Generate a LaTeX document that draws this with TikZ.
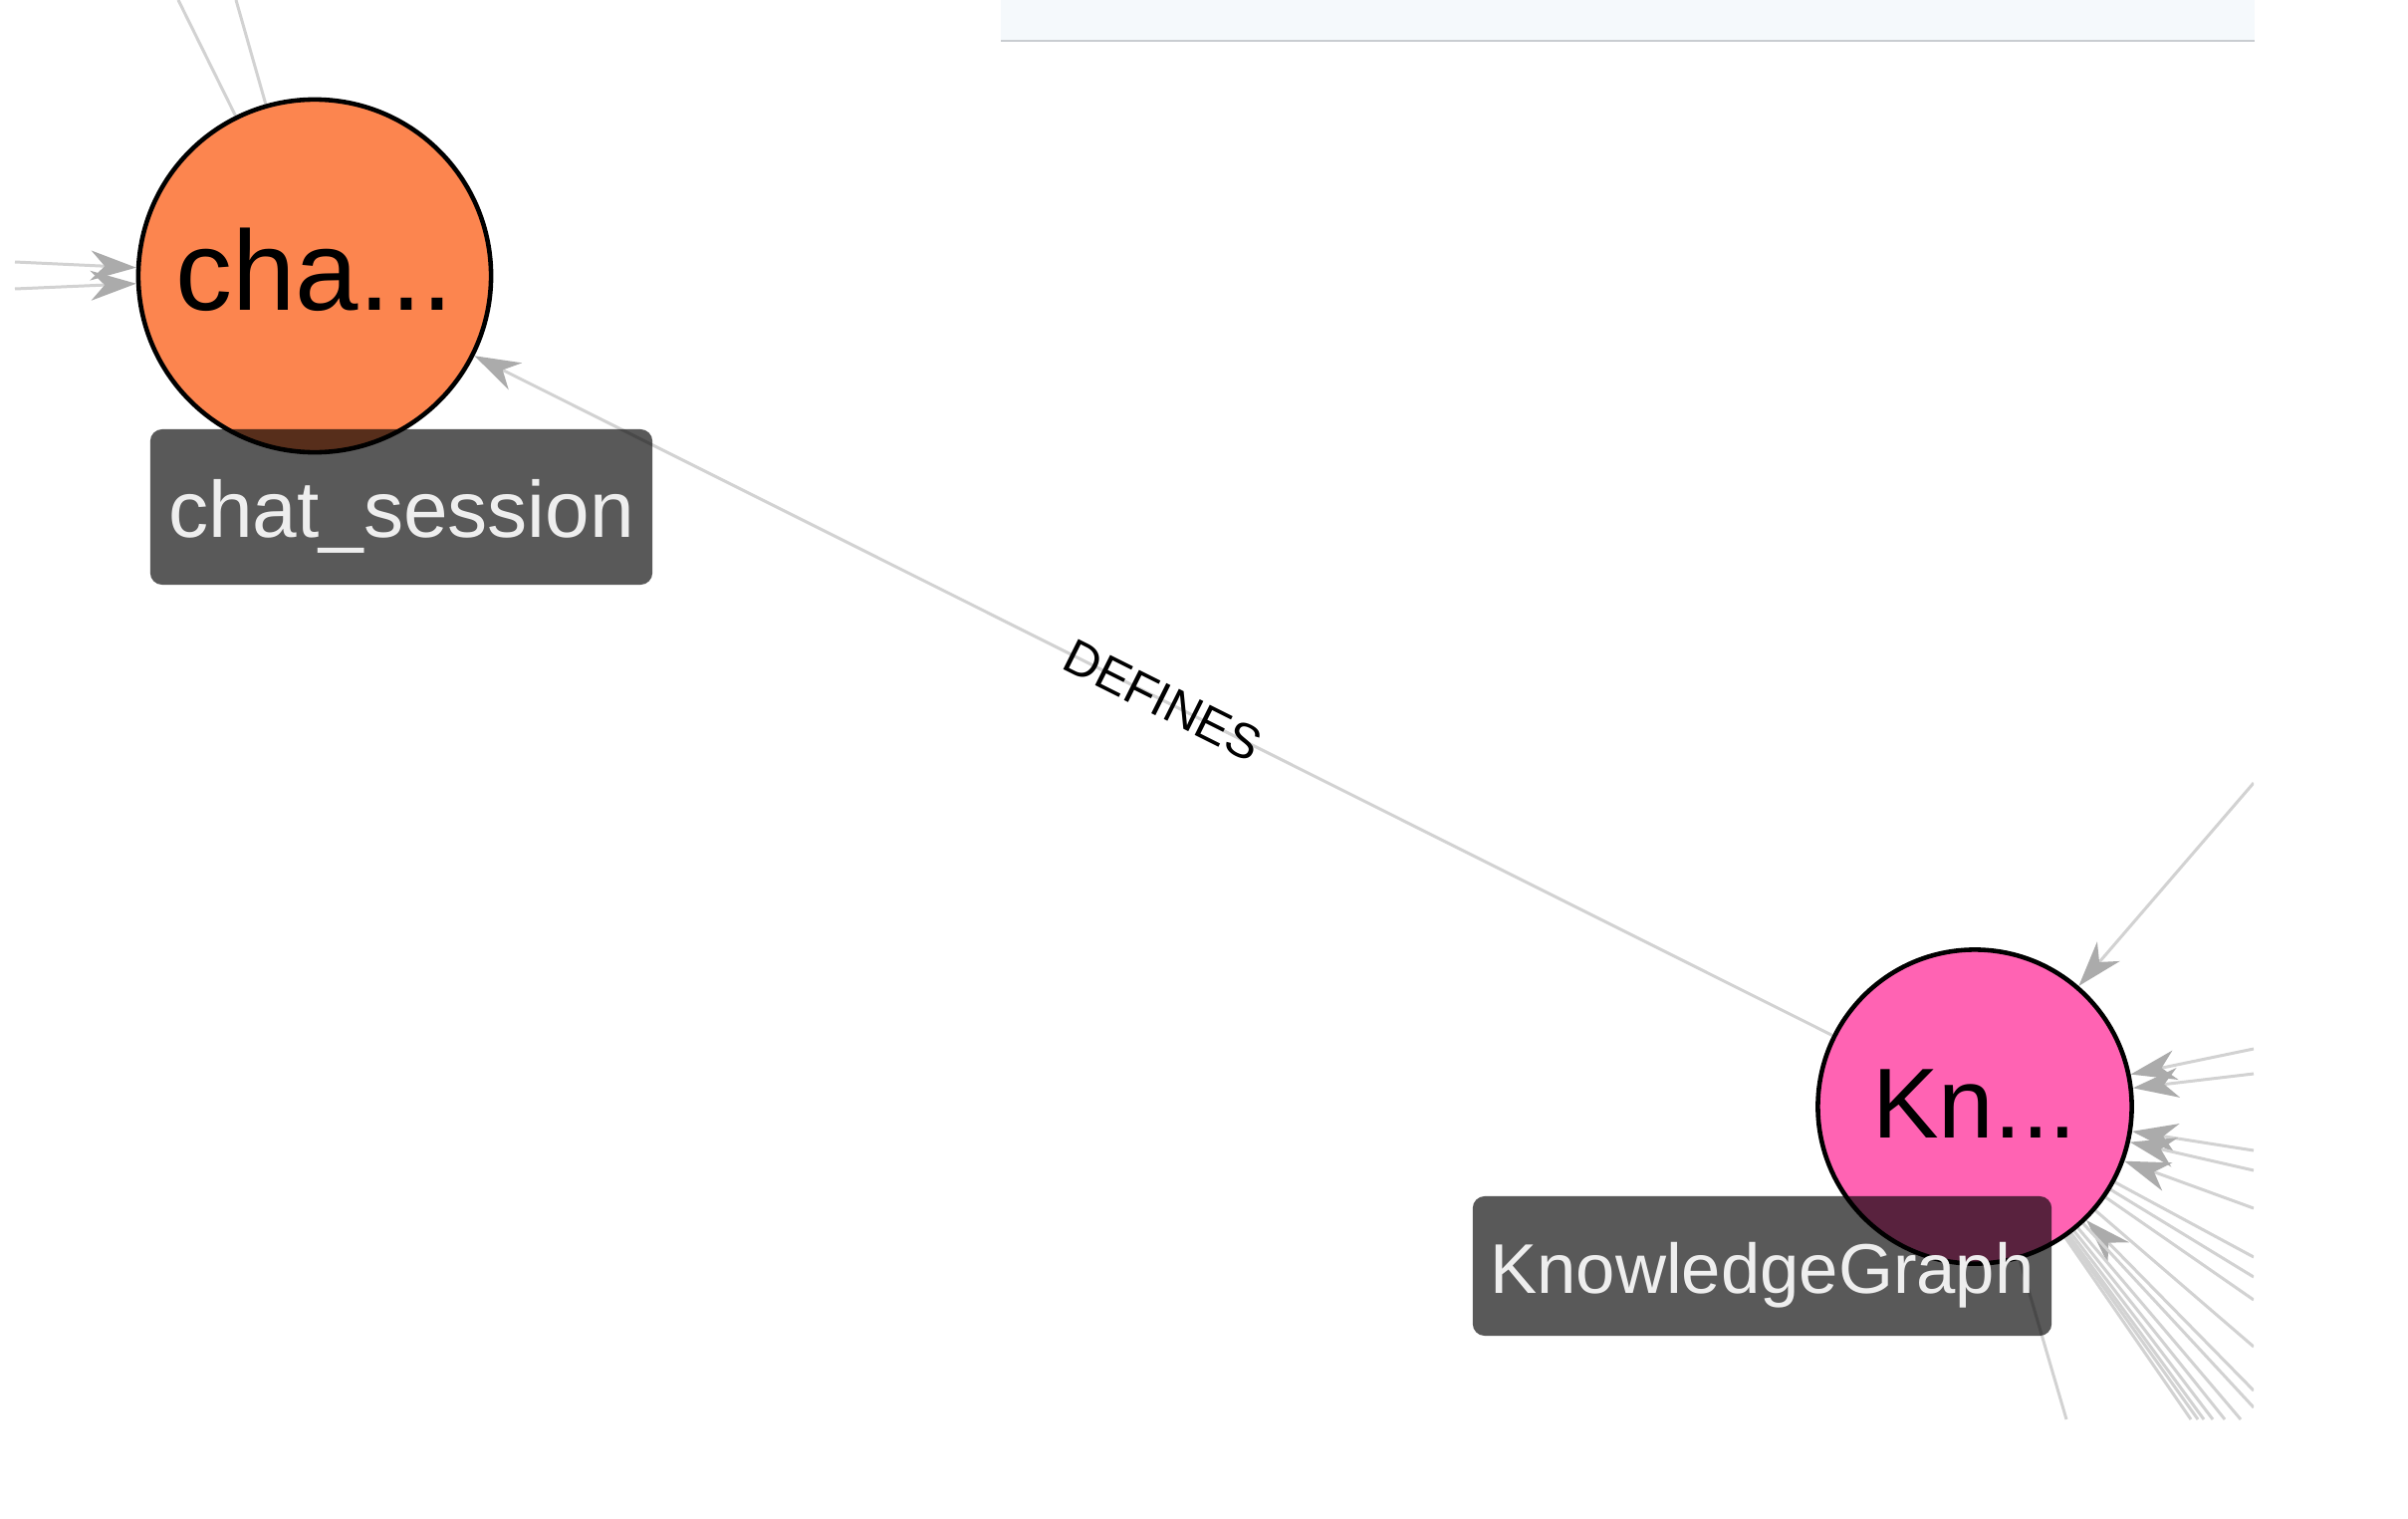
\documentclass[tikz,border=0pt]{standalone}
\usepackage{fontspec}
\setmainfont{Liberation Sans}
\usetikzlibrary{arrows.meta}
\pgfdeclarelayer{bglayer}
\pgfdeclarelayer{edgelayer}
\pgfsetlayers{bglayer,edgelayer,main}
\definecolor{orangenode}{HTML}{FC854F}
\definecolor{pinknode}{HTML}{FF63B3}
\definecolor{edgec}{HTML}{D2D2D2}
\definecolor{arrowc}{HTML}{ABABAB}
\definecolor{panelfill}{HTML}{F5F9FC}
\definecolor{panelline}{HTML}{C9CDD1}
\definecolor{labeltext}{HTML}{EEEEEE}
\begin{document}
\begin{tikzpicture}[x=0.01cm,y=-0.01cm,
  graphnode/.style={circle, draw=black, line width=1.3pt, inner sep=0pt, text depth=0pt},
  tag/.style={rounded corners=3.4pt, fill=black, fill opacity=0.65, text opacity=1, text=labeltext, inner sep=0pt, text depth=0pt},
  edgeline/.style={draw=edgec, line width=0.85pt},
  arrline/.style={edgeline, -{Stealth[length=13pt,width=8.5pt,inset=4pt,color=arrowc]}},
]
\useasboundingbox (0,0) rectangle (2418,1524);
\begin{pgfonlayer}{bglayer}
\fill[white] (0,0) rectangle (2418,1524);
% top panel
\fill[panelfill] (1005,0) rectangle (2264,41);
\draw[panelline, line width=0.8pt] (1005,41) -- (2264,41);
\end{pgfonlayer}

% nodes
\node[graphnode, fill=orangenode, minimum size=3.54cm, text height=0.68cm, font=\fontsize{32.4pt}{32.4pt}\selectfont] (chat) at (316,277) {cha...};
\node[graphnode, fill=pinknode, minimum size=3.15cm, text height=0.62cm, font=\fontsize{28.4pt}{28.4pt}\selectfont] (kn) at (1983,1111) {Kn...};

% free ends of the edges
\coordinate (c1) at (179,0);
\coordinate (c2) at (237,0);
\coordinate (c3) at (15,263);
\coordinate (c4) at (15,290);
\coordinate (k1) at (2263,786);
\coordinate (k2) at (2263,1053);
\coordinate (k3) at (2263,1078);
\coordinate (k4) at (2263,1155);
\coordinate (k5) at (2263,1175);
\coordinate (k6) at (2263,1213);
\coordinate (k7) at (2263,1262);
\coordinate (k8) at (2263,1282);
\coordinate (k9) at (2263,1305);
\coordinate (k10) at (2263,1352);
\coordinate (k11) at (2263,1396);
\coordinate (k12) at (2263,1413);
\coordinate (k13) at (2200,1425);
\coordinate (k14) at (2207,1425);
\coordinate (k15) at (2213,1425);
\coordinate (k16) at (2222,1425);
\coordinate (k17) at (2234,1425);
\coordinate (k18) at (2250,1425);
\coordinate (k19) at (2075,1425);

\begin{pgfonlayer}{edgelayer}
\begin{scope}
\clip (0,0) rectangle (2263,1425);
\draw[edgeline] (c1) -- (chat);
\draw[edgeline] (c2) -- (chat);
\draw[arrline] (c3) -- (chat);
\draw[arrline] (c4) -- (chat);
\draw[arrline] (k1) -- (kn);
\draw[arrline] (k2) -- (kn);
\draw[arrline] (k3) -- (kn);
\draw[arrline] (k4) -- (kn);
\draw[arrline] (k5) -- (kn);
\draw[arrline] (k6) -- (kn);
\draw[edgeline] (k7) -- (kn);
\draw[edgeline] (k8) -- (kn);
\draw[edgeline] (k9) -- (kn);
\draw[edgeline] (k10) -- (kn);
\draw[arrline] (k11) -- (kn);
\draw[edgeline] (k12) -- (kn);
\draw[edgeline] (k13) -- (kn);
\draw[edgeline] (k14) -- (kn);
\draw[edgeline] (k15) -- (kn);
\draw[edgeline] (k16) -- (kn);
\draw[edgeline] (k17) -- (kn);
\draw[edgeline] (k18) -- (kn);
\draw[edgeline] (k19) -- (kn);
\draw[arrline] (kn) -- (chat) node[pos=0.493, sloped, text=black, inner sep=0pt, font=\fontsize{14pt}{14pt}\selectfont] (deflabel) {DEFINES};
\end{scope}
\end{pgfonlayer}

% label tags
\node[tag, minimum width=5.04cm, minimum height=1.56cm, text height=0.6cm, font=\fontsize{22.8pt}{22.8pt}\selectfont] (chattag) at (403,509) {chat\_session};
\node[tag, minimum width=5.81cm, minimum height=1.40cm, text height=0.55cm, font=\fontsize{20.1pt}{20.1pt}\selectfont] (kntag) at (1769.5,1271) {KnowledgeGraph};
\end{tikzpicture}
\end{document}
